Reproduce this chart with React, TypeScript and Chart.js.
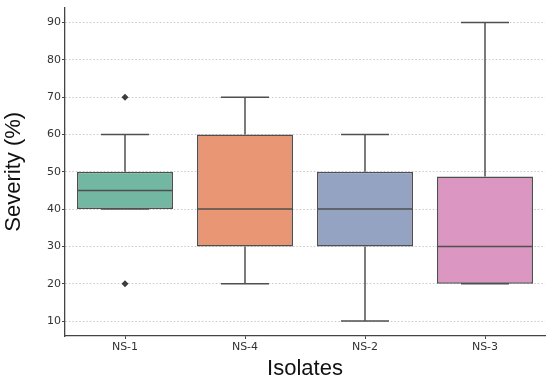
import React, { useEffect, useRef } from "react";
import { Chart, registerables } from "chart.js";

Chart.register(...registerables);

const categories = ["NS-1", "NS-4", "NS-2", "NS-3"];
const q1 = [40, 30, 30, 20];
const q3 = [50, 60, 50, 48.75];
const medians = [45, 40, 40, 30];
const whiskerLow = [40, 20, 10, 20];
const whiskerHigh = [60, 70, 60, 90];
const outliers = [
  { x: "NS-1", y: 70 },
  { x: "NS-1", y: 20 },
];
const yTicks = [10, 20, 30, 40, 50, 60, 70, 80, 90];
const boxColors = ["#71b7a1", "#e99675", "#95a3c3", "#db96c1"];
const lineColor = "#4f4f4f";

const boxPlugin = {
  id: "boxExtras",
  afterDatasetsDraw(chart: any) {
    const ctx = chart.ctx;
    const xs = chart.scales.x;
    const ys = chart.scales.y;
    const meta = chart.getDatasetMeta(0);
    ctx.save();
    ctx.strokeStyle = lineColor;
    ctx.lineWidth = 1.5;
    categories.forEach((c, i) => {
      const cx = xs.getPixelForValue(i);
      const bar = meta.data[i];
      const half = bar.width / 2;
      const capHalf = half / 2;
      const my = ys.getPixelForValue(medians[i]);
      ctx.beginPath();
      ctx.moveTo(cx - half, my);
      ctx.lineTo(cx + half, my);
      ctx.stroke();
      const yq3 = ys.getPixelForValue(q3[i]);
      const yhi = ys.getPixelForValue(whiskerHigh[i]);
      if (whiskerHigh[i] > q3[i]) {
        ctx.beginPath();
        ctx.moveTo(cx, yq3);
        ctx.lineTo(cx, yhi);
        ctx.stroke();
      }
      ctx.beginPath();
      ctx.moveTo(cx - capHalf, yhi);
      ctx.lineTo(cx + capHalf, yhi);
      ctx.stroke();
      const yq1 = ys.getPixelForValue(q1[i]);
      const ylo = ys.getPixelForValue(whiskerLow[i]);
      if (whiskerLow[i] < q1[i]) {
        ctx.beginPath();
        ctx.moveTo(cx, yq1);
        ctx.lineTo(cx, ylo);
        ctx.stroke();
      }
      ctx.beginPath();
      ctx.moveTo(cx - capHalf, ylo);
      ctx.lineTo(cx + capHalf, ylo);
      ctx.stroke();
    });
    ctx.restore();
  },
};

export default function App() {
  const ref = useRef<HTMLCanvasElement>(null);
  useEffect(() => {
    if (!ref.current) return;
    const chart = new Chart(ref.current, {
      type: "bar",
      data: {
        labels: categories,
        datasets: [
          {
            type: "bar",
            data: categories.map((_, i) => [q1[i], q3[i]]) as any,
            backgroundColor: boxColors,
            borderColor: lineColor,
            borderWidth: 1.5,
            borderSkipped: false,
            barPercentage: 0.8,
            categoryPercentage: 1,
          } as any,
          {
            type: "line",
            data: outliers as any,
            showLine: false,
            pointStyle: "rectRot",
            pointRadius: 3.5,
            pointBackgroundColor: "#3d3d3d",
            pointBorderColor: "#3d3d3d",
            pointBorderWidth: 0,
          } as any,
        ],
      },
      options: {
        animation: false,
        responsive: false,
        maintainAspectRatio: false,
        layout: { padding: { top: 3, right: 5, left: 0, bottom: 0 } },
        plugins: { legend: { display: false }, tooltip: { enabled: false } },
        scales: {
          x: {
            type: "category",
            grid: {
              offset: false,
              drawOnChartArea: false,
              tickLength: 3,
              tickColor: "#444",
              tickWidth: 1,
            },
            border: { display: true, color: "#444", width: 1.3 },
            ticks: {
              color: "#333",
              font: { family: "DejaVu Sans", size: 11 },
              padding: 2,
            },
            title: {
              display: true,
              text: "Isolates",
              color: "#111",
              font: { family: "Liberation Sans", size: 22, lineHeight: 1.2 },
              padding: { top: 0, bottom: 0 },
            },
            afterFit(scale: any) {
              scale.height = 46;
            },
          },
          y: {
            type: "linear",
            min: 6,
            max: 94,
            afterBuildTicks(scale: any) {
              scale.ticks = yTicks.map((v) => ({ value: v }));
            },
            grid: {
              color: "#c8c8c8",
              lineWidth: 1,
              tickLength: 3,
              tickColor: "#444",
              tickBorderDash: [],
              tickWidth: 1,
            } as any,
            border: { display: true, color: "#444", width: 1.3, dash: [1.5, 2] },
            ticks: {
              color: "#333",
              font: { family: "DejaVu Sans", size: 11 },
              padding: 1,
            },
            title: {
              display: true,
              text: "Severity (%)",
              color: "#111",
              font: { family: "Liberation Sans", size: 22, lineHeight: 1.2 },
              padding: { top: 1, bottom: 0 },
            },
            afterFit(scale: any) {
              scale.width = 65;
            },
          },
        },
      },
      plugins: [boxPlugin],
    });
    return () => chart.destroy();
  }, []);
  return (
    <div style={{ position: "fixed", left: 0, top: 0, width: 550, height: 382, background: "#fff" }}>
      <canvas ref={ref} width={550} height={382} style={{ width: 550, height: 382 }} />
    </div>
  );
}
